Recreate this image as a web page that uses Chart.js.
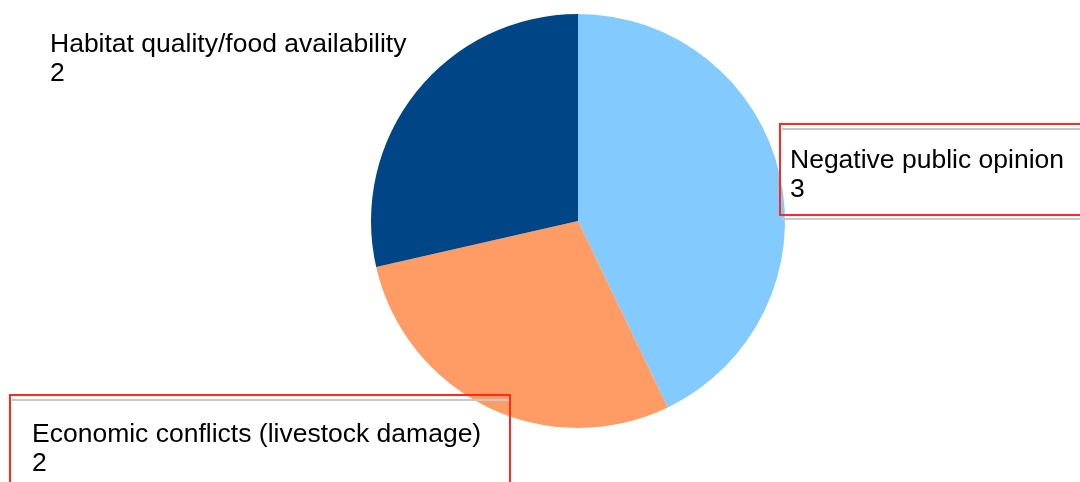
<!DOCTYPE html>
<html>
<head>
<meta charset="utf-8">
<script src="https://cdn.jsdelivr.net/npm/chart.js@4"></script>
<style>
  html, body { margin: 0; padding: 0; background: #fff; }
  #wrap { width: 1080px; height: 482px; }
</style>
</head>
<body>
<div id="wrap"><canvas id="myChart" width="1080" height="482"></canvas></div>
<script>
// chart data
const categories = ["Negative public opinion", "Economic conflicts (livestock damage)", "Habitat quality/food availability"];
const values = [3, 2, 2];
const colors = ["#83caff", "#ff9c66", "#004586"];

// where each slice label sits (x, first baseline), and its optional red box
const labelSpots = [
  { x: 790, y: 168, box: { x: 780, y: 124, w: 310, h: 91 } },
  { x: 32, y: 442, box: { x: 10, y: 395, w: 500, h: 100 } },
  { x: 50, y: 52, box: null }
];

const sliceLabels = {
  id: "sliceLabels",
  afterDraw(chart) {
    const ctx = chart.ctx;
    ctx.save();
    categories.forEach((name, i) => {
      const spot = labelSpots[i];
      if (spot.box) {
        const b = spot.box;
        ctx.strokeStyle = "#c8c8c8";
        ctx.lineWidth = 2;
        ctx.beginPath();
        ctx.moveTo(b.x + 2, b.y + 5);
        ctx.lineTo(b.x + b.w, b.y + 5);
        ctx.moveTo(b.x + 2, b.y + b.h + 4);
        ctx.lineTo(b.x + b.w, b.y + b.h + 4);
        ctx.stroke();
        ctx.strokeStyle = "#ff2a1a";
        ctx.lineWidth = 2;
        ctx.strokeRect(b.x, b.y, b.w, b.h);
      }
      ctx.fillStyle = "#000";
      ctx.font = '26.5px "Liberation Sans", Arial, sans-serif';
      ctx.textBaseline = "alphabetic";
      ctx.textAlign = "left";
      ctx.fillText(name, spot.x, spot.y);
      ctx.fillText(String(values[i]), spot.x, spot.y + 28.5);
    });
    ctx.restore();
  }
};

new Chart(document.getElementById("myChart").getContext("2d"), {
  type: "pie",
  data: {
    labels: categories,
    datasets: [{
      data: values,
      backgroundColor: colors,
      borderWidth: 0
    }]
  },
  options: {
    responsive: false,
    animation: false,
    layout: { padding: { left: 371, right: 295, top: 14, bottom: 54 } },
    plugins: {
      legend: { display: false },
      tooltip: { enabled: false }
    }
  },
  plugins: [sliceLabels]
});
</script>
</body>
</html>
